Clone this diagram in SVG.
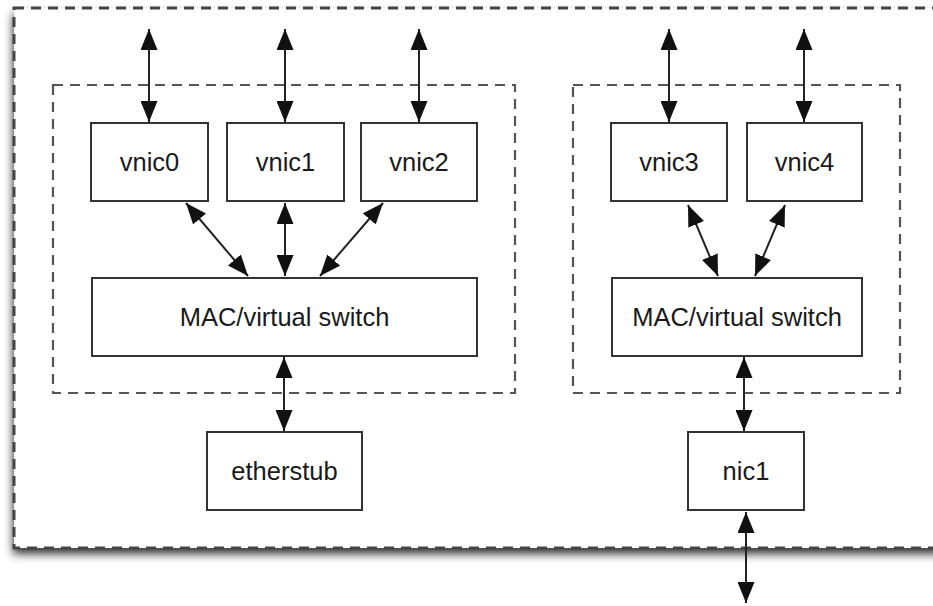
<svg xmlns="http://www.w3.org/2000/svg" width="933" height="606" viewBox="0 0 933 606">
  <defs>
    <filter id="shadow" x="-5%" y="-5%" width="110%" height="115%">
      <feDropShadow dx="-1" dy="6" stdDeviation="5" flood-color="#000" flood-opacity="0.8"/>
    </filter>
    <marker id="ah" viewBox="0 0 21 17" refX="21" refY="8.5" markerWidth="21" markerHeight="17" markerUnits="userSpaceOnUse" orient="auto-start-reverse">
      <path d="M0,0 L21,8.5 L0,17 z" fill="#111"/>
    </marker>
    <style>
      .box { fill: #fff; stroke: #333; stroke-width: 2; }
      .grp { fill: none; stroke: #555; stroke-width: 2.2; stroke-dasharray: 10 7; }
      .outer { fill: #fff; stroke: #444; stroke-width: 3; stroke-dasharray: 10 7; }
      .lbl { font-family: "Liberation Sans", Arial, Helvetica, sans-serif; font-size: 25.5px; fill: #1a1a1a; text-anchor: middle; }
      .conn line { stroke: #222; stroke-width: 2; marker-start: url(#ah); marker-end: url(#ah); }
    </style>
  </defs>
  <rect width="933" height="606" fill="#fff"/>
  <g id="outer">
    <rect x="14" y="8" width="940" height="540" fill="#fff" filter="url(#shadow)"/>
    <rect class="outer" x="14" y="8" width="940" height="540"/>
  </g>
  <g id="group-left"><rect class="grp" x="53" y="85" width="462" height="308"/></g>
  <g id="group-right"><rect class="grp" x="573" y="85" width="327" height="308"/></g>

  <g id="vnic0"><rect class="box" x="91" y="123" width="117" height="78"/><text class="lbl" x="149.5" y="171">vnic0</text></g>
  <g id="vnic1"><rect class="box" x="227" y="123" width="117" height="78"/><text class="lbl" x="285.5" y="171">vnic1</text></g>
  <g id="vnic2"><rect class="box" x="361" y="123" width="116" height="78"/><text class="lbl" x="419" y="171">vnic2</text></g>
  <g id="mac-left"><rect class="box" x="92" y="278" width="385" height="78"/><text class="lbl" x="284.5" y="326">MAC/virtual switch</text></g>
  <g id="etherstub"><rect class="box" x="207" y="432" width="155" height="78"/><text class="lbl" x="284.5" y="480">etherstub</text></g>

  <g id="vnic3"><rect class="box" x="611" y="123" width="116" height="78"/><text class="lbl" x="669" y="171">vnic3</text></g>
  <g id="vnic4"><rect class="box" x="747" y="123" width="115" height="78"/><text class="lbl" x="804.5" y="171">vnic4</text></g>
  <g id="mac-right"><rect class="box" x="612" y="278" width="250" height="78"/><text class="lbl" x="737" y="326">MAC/virtual switch</text></g>
  <g id="nic1"><rect class="box" x="688" y="432" width="116" height="78"/><text class="lbl" x="746" y="480">nic1</text></g>

  <g id="connectors" class="conn">
    <line x1="149" y1="29" x2="149" y2="122"/>
    <line x1="285" y1="29" x2="285" y2="122"/>
    <line x1="419" y1="29" x2="419" y2="122"/>
    <line x1="669" y1="29" x2="669" y2="122"/>
    <line x1="804" y1="29" x2="804" y2="122"/>
    <line x1="186" y1="203" x2="248" y2="276"/>
    <line x1="285" y1="203" x2="285" y2="276"/>
    <line x1="383" y1="203" x2="320" y2="276"/>
    <line x1="688" y1="205" x2="718" y2="276"/>
    <line x1="785" y1="205" x2="755" y2="276"/>
    <line x1="284" y1="357" x2="284" y2="431"/>
    <line x1="744" y1="357" x2="744" y2="431"/>
    <line x1="746" y1="512" x2="746" y2="603"/>
  </g>
</svg>
